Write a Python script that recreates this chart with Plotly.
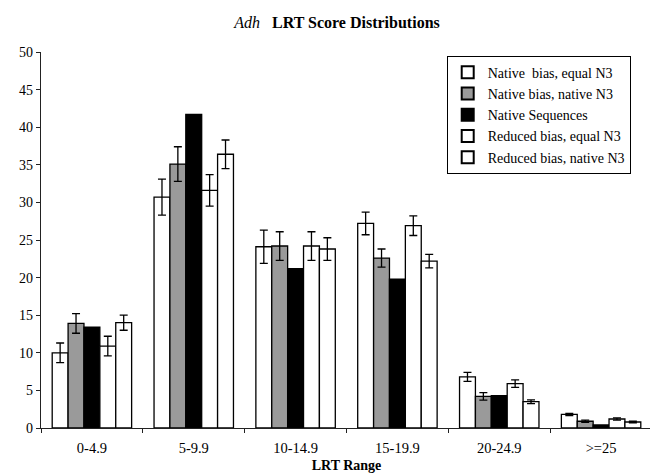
import plotly.graph_objects as go

categories = ["0-4.9", "5-9.9", "10-14.9", "15-19.9", "20-24.9", ">=25"]

series_names = [
    "Native  bias, equal N3",
    "Native bias, native N3",
    "Native Sequences",
    "Reduced bias, equal N3",
    "Reduced bias, native N3",
]

native_bias_equal = [10.0, 30.7, 24.1, 27.2, 6.8, 1.8]
native_bias_equal_err = [1.3, 2.4, 2.2, 1.5, 0.6, 0.15]

native_bias_native = [13.9, 35.1, 24.2, 22.6, 4.2, 0.9]
native_bias_native_err = [1.3, 2.3, 1.9, 1.2, 0.5, 0.15]

native_sequences = [13.4, 41.7, 21.2, 19.8, 4.3, 0.4]

reduced_bias_equal = [10.9, 31.6, 24.2, 26.9, 5.9, 1.2]
reduced_bias_equal_err = [1.3, 2.1, 1.9, 1.3, 0.5, 0.15]

reduced_bias_native = [14.0, 36.4, 23.8, 22.2, 3.5, 0.8]
reduced_bias_native_err = [1.0, 1.9, 1.5, 0.9, 0.25, 0.1]

values = [native_bias_equal, native_bias_native, native_sequences,
          reduced_bias_equal, reduced_bias_native]
errors = [native_bias_equal_err, native_bias_native_err, None,
          reduced_bias_equal_err, reduced_bias_native_err]
fills = ["white", "#9a9a9a", "black", "white", "white"]

FONT = "Liberation Serif, Times New Roman, serif"

fig = go.Figure()
for name, vals, err, fill in zip(series_names, values, errors, fills):
    kw = {}
    if err is not None:
        kw["error_y"] = dict(type="data", array=err, visible=True,
                             color="black", thickness=1.3, width=4)
    fig.add_trace(go.Bar(
        x=categories, y=vals, name=name,
        marker=dict(color=fill, line=dict(color="black", width=1.3)),
        **kw))

fig.update_layout(
    width=658, height=474,
    barmode="group", bargap=0.22, bargroupgap=0,
    plot_bgcolor="white", paper_bgcolor="white",
    font=dict(family=FONT, size=14, color="black"),
    margin=dict(l=33, r=14, t=44, b=54),
    title=dict(text="<i>Adh</i>&nbsp;&nbsp; <b>LRT Score Distributions</b>",
               x=0.5, xanchor="center", y=0.970, yanchor="middle",
               font=dict(family=FONT, size=16, color="black")),
    legend=dict(x=0.664, y=0.99, xanchor="left", yanchor="top",
                bgcolor="white", bordercolor="black", borderwidth=1,
                font=dict(family=FONT, size=14, color="black"),
                tracegroupgap=0, itemsizing="constant"),
    showlegend=True,
)

fig.update_xaxes(
    type="category", showline=True, linecolor="#222", linewidth=1.2,
    ticks="outside", tickson="boundaries", ticklen=4, tickcolor="#222",
    ticklabelstandoff=6,
    showgrid=False, tickfont=dict(family=FONT, size=14.5),
    title=dict(text="<b>LRT Range</b>", font=dict(family=FONT, size=14), standoff=5),
)
fig.update_yaxes(
    range=[0, 50], dtick=5, showline=True, linecolor="#222", linewidth=1.2,
    ticks="outside", ticklen=4, tickcolor="#222", showgrid=False,
    zeroline=False, tickfont=dict(family=FONT, size=14),
)

fig.write_html("out.html")
